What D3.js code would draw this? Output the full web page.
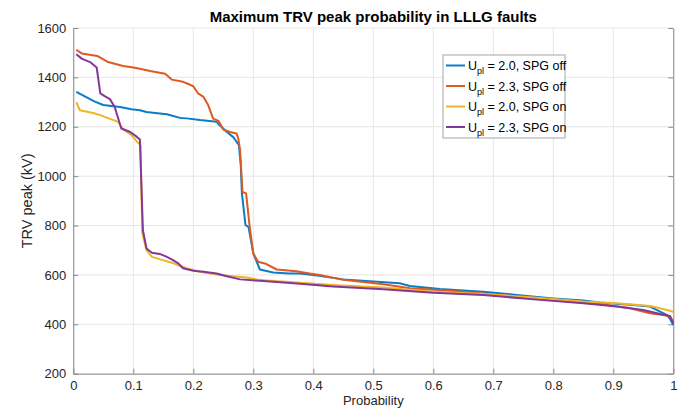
<!DOCTYPE html>
<html><head><meta charset="utf-8">
<script src="https://d3js.org/d3.v7.min.js"></script>
<style>body{margin:0;background:#fff}svg{display:block}text{font-family:"Liberation Sans",Arial,sans-serif}</style>
</head><body>
<svg id="c" width="697" height="408"></svg>
<script>
const title = "Maximum TRV peak probability in LLLG faults";
const xLabel = "Probability";
const yLabel = "TRV peak (kV)";
const xTicks = [0,0.1,0.2,0.3,0.4,0.5,0.6,0.7,0.8,0.9,1];
const xTickLabels = ["0","0.1","0.2","0.3","0.4","0.5","0.6","0.7","0.8","0.9","1"];
const yTicks = [200,400,600,800,1000,1200,1400,1600];
const seriesNames = ["= 2.0, SPG off","= 2.3, SPG off","= 2.0, SPG on","= 2.3, SPG on"];
const seriesColors = ["#0b7cc6","#de5a22","#efb526","#84379a"];

const blueX = [0.005,0.02,0.035,0.05,0.078,0.097,0.111,0.122,0.144,0.156,0.178,0.189,0.211,0.239,0.244,0.256,0.267,0.276,0.279,0.281,0.287,0.292,0.30,0.311,0.333,0.36,0.378,0.41,0.45,0.50,0.544,0.561,0.611,0.683,0.739,0.80,0.85,0.878,0.933,0.961,0.978,0.989,0.994,1.0];
const blueY = [1341,1322,1303,1288,1280,1271,1267,1260,1254,1251,1236,1234,1227,1220,1206,1179,1157,1125,1050,930,802,795,687,622,610,606,606,597,582,573,566,555,543,532,519,505,496,488,478,472,451,438,424,397];

const orangeX = [0.005,0.014,0.04,0.058,0.083,0.1,0.111,0.128,0.153,0.164,0.183,0.194,0.2,0.208,0.217,0.225,0.233,0.242,0.25,0.261,0.272,0.275,0.278,0.282,0.288,0.294,0.3,0.308,0.322,0.339,0.372,0.394,0.411,0.45,0.517,0.561,0.628,0.711,0.80,0.878,0.928,0.961,0.983,0.994,1.0];
const orangeY = [1512,1497,1487,1462,1446,1440,1435,1426,1415,1391,1382,1371,1364,1335,1321,1287,1233,1224,1189,1179,1173,1152,1105,936,930,795,687,653,644,622,615,606,600,580,562,546,536,519,499,482,465,445,438,434,411];

const yellowX = [0.005,0.011,0.033,0.045,0.061,0.075,0.083,0.097,0.108,0.112,0.115,0.122,0.131,0.145,0.167,0.178,0.189,0.211,0.244,0.289,0.311,0.378,0.433,0.517,0.600,0.683,0.767,0.850,0.906,0.961,0.978,0.994,1.0];
const yellowY = [1300,1267,1256,1247,1232,1220,1190,1166,1135,1125,770,700,673,663,647,636,627,613,600,590,579,568,559,549,532,523,509,492,485,474,465,455,451];

const purpleX = [0.005,0.014,0.028,0.039,0.045,0.053,0.061,0.069,0.08,0.095,0.106,0.111,0.116,0.122,0.131,0.144,0.156,0.164,0.175,0.183,0.2,0.217,0.239,0.256,0.278,0.311,0.378,0.433,0.517,0.600,0.683,0.767,0.850,0.906,0.950,0.978,0.994,1.0];
const purpleY = [1494,1476,1462,1440,1335,1323,1312,1280,1193,1179,1159,1148,781,707,690,685,673,663,647,627,617,613,606,595,582,576,564,553,542,528,519,501,485,472,458,442,434,404];

const seriesX = [blueX, orangeX, yellowX, purpleX];
const seriesY = [blueY, orangeY, yellowY, purpleY];

const svg = d3.select("#c");
const L = 73.3, R = 673.3, T = 28, B = 373.7;
const x = d3.scaleLinear().domain([0,1]).range([L,R]);
const y = d3.scaleLinear().domain([200,1600]).range([B,T]);

// grid
const g = svg.append("g");
g.selectAll(".vg").data(xTicks).enter().append("line")
  .attr("x1",d=>x(d)).attr("x2",d=>x(d)).attr("y1",T).attr("y2",B)
  .attr("stroke","#e6e6e6").attr("stroke-width",1);
g.selectAll(".hg").data(yTicks).enter().append("line")
  .attr("x1",L).attr("x2",R).attr("y1",d=>y(d)).attr("y2",d=>y(d))
  .attr("stroke","#e6e6e6").attr("stroke-width",1);

// axes
const axCol = "#8a8a8a";
const xAxis = d3.axisBottom(x).tickValues(xTicks).tickFormat((d,i)=>xTickLabels[i]).tickSizeInner(-5).tickSizeOuter(0).tickPadding(7.2);
const yAxis = d3.axisLeft(y).tickValues(yTicks).tickFormat(d3.format("d")).tickSizeInner(-5).tickSizeOuter(0).tickPadding(7);
const gx = svg.append("g").attr("transform",`translate(0,${B})`).call(xAxis);
const gy = svg.append("g").attr("transform",`translate(${L},0)`).call(yAxis);
[gx,gy].forEach(a=>{
  a.select(".domain").attr("stroke",axCol).attr("stroke-width",1);
  a.selectAll(".tick line").attr("stroke",axCol);
  a.selectAll(".tick text").attr("fill","#262626").style("font-size","13px").style("font-family","'Liberation Sans',Arial,sans-serif");
});
// right axis line with inward ticks
const yAxisR = d3.axisRight(y).tickValues(yTicks).tickFormat("").tickSizeInner(-5).tickSizeOuter(0);
const gr = svg.append("g").attr("transform",`translate(${R},0)`).call(yAxisR);
gr.select(".domain").attr("stroke",axCol);
gr.selectAll(".tick line").attr("stroke",axCol);

// lines
const lineGen = d3.line().x(d=>x(d[0])).y(d=>y(d[1]));
const plot = svg.append("g");
seriesX.forEach((xs,i)=>{
  const pts = xs.map((v,j)=>[v, seriesY[i][j]]);
  plot.append("path").datum(pts).attr("d",lineGen)
    .attr("fill","none").attr("stroke",seriesColors[i]).attr("stroke-width",2)
    .attr("stroke-linejoin","round");
});

// title & labels
svg.append("text").attr("x",(L+R)/2).attr("y",22).attr("text-anchor","middle")
  .style("font-size","15px").style("font-weight","bold").attr("fill","#000").text(title);
svg.append("text").attr("x",(L+R)/2).attr("y",405).attr("text-anchor","middle")
  .style("font-size","13px").attr("fill","#262626").text(xLabel);
svg.append("text").attr("transform",`translate(32,${(T+B)/2}) rotate(-90)`).attr("text-anchor","middle")
  .style("font-size","14.5px").attr("fill","#262626").text(yLabel);

// legend
const lg = svg.append("g");
const lx = 443, ly = 55, lw = 122, lh = 83;
lg.append("rect").attr("x",lx).attr("y",ly).attr("width",lw).attr("height",lh)
  .attr("fill","#fff").attr("stroke","#a6a6a6").attr("stroke-width",1);
seriesNames.forEach((nm,i)=>{
  const yy = ly + 10.5 + i*20.5;
  lg.append("line").attr("x1",lx+3).attr("x2",lx+22).attr("y1",yy).attr("y2",yy)
    .attr("stroke",seriesColors[i]).attr("stroke-width",2);
  const t = lg.append("text").attr("x",lx+25).attr("y",yy+4.5).style("font-size","12.5px").attr("fill","#000");
  t.append("tspan").text("U");
  t.append("tspan").attr("dy",4).style("font-size","9px").text("pl");
  t.append("tspan").attr("dy",-4).text(" " + nm);
});
</script>
</body></html>
